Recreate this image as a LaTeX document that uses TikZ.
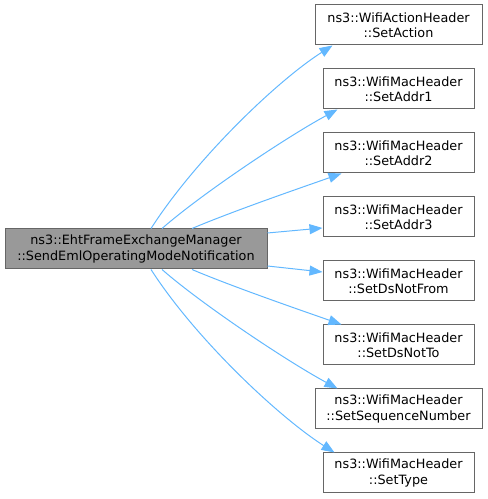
\documentclass[tikz,border=0pt]{standalone}
\usepackage{fontspec}
\setmainfont{DejaVu Sans}
\usepackage{xcolor}
\usepackage{tikz}
\usetikzlibrary{arrows.meta, calc}
\definecolor{edgeblue}{HTML}{63B8FF}
\definecolor{boxline}{HTML}{666666}
\definecolor{mainfill}{HTML}{999999}

\begin{document}
\begin{tikzpicture}[
  x=0.75pt, y=0.75pt,
  arr/.style={-{Triangle[length=9.75pt, width=7.5pt]}, edgeblue, line width=0.75pt},
  fnbox/.style={rectangle, draw=boxline, fill=white, line width=0.75pt, minimum height=30pt, inner sep=0pt, align=center, font=\fontsize{9.6}{11.4}\selectfont},
  widebox/.style={fnbox, minimum width=125.25pt},
  narrowbox/.style={fnbox, minimum width=113.25pt}
]
\useasboundingbox (0,0) rectangle (488,499);

\node[fnbox, fill=mainfill, minimum width=196.5pt] (main) at (136,250) {ns3::EhtFrameExchangeManager\\::SendEmlOperatingModeNotification};

\node[widebox]   (act)   at (398.5,474) {ns3::WifiActionHeader\\::SetAction};
\node[narrowbox] (addr1) at (398.5,410) {ns3::WifiMacHeader\\::SetAddr1};
\node[narrowbox] (addr2) at (398.5,346) {ns3::WifiMacHeader\\::SetAddr2};
\node[narrowbox] (addr3) at (398.5,282) {ns3::WifiMacHeader\\::SetAddr3};
\node[narrowbox] (dsfrom) at (398.5,218) {ns3::WifiMacHeader\\::SetDsNotFrom};
\node[narrowbox] (dsto)  at (398.5,154) {ns3::WifiMacHeader\\::SetDsNotTo};
\node[widebox]   (seq)   at (398.5,90)  {ns3::WifiMacHeader\\::SetSequenceNumber};
\node[narrowbox] (type)  at (398.5,26)  {ns3::WifiMacHeader\\::SetType};

% calls going up
\draw[arr] ($(main.north)+(15,0)$) .. controls +(45,70) and +(-55,-35) .. ($(act.south west)+(18,0)$);
\draw[arr] ($(main.north)+(26,0)$) .. controls +(40,35) and +(-50,-27) .. ($(addr1.south west)+(15,0)$);
\draw[arr] ($(main.north)+(56,0)$) .. controls +(40,17) and +(-40,-14) .. ($(addr2.south west)+(19,0)$);
\draw[arr] ($(main.east)+(0,16)$) -- ($(addr3.west)+(0,-11)$);
% calls going down
\draw[arr] ($(main.east)+(0,-17)$) -- ($(dsfrom.west)+(0,9)$);
\draw[arr] ($(main.south)+(56,0)$) .. controls +(40,-17) and +(-40,14) .. ($(dsto.north west)+(19,0)$);
\draw[arr] ($(main.south)+(26,0)$) .. controls +(40,-35) and +(-50,27) .. ($(seq.north west)+(23,0)$);
\draw[arr] ($(main.south)+(15,0)$) .. controls +(45,-70) and +(-55,35) .. ($(type.north west)+(12,0)$);
\end{tikzpicture}
\end{document}
